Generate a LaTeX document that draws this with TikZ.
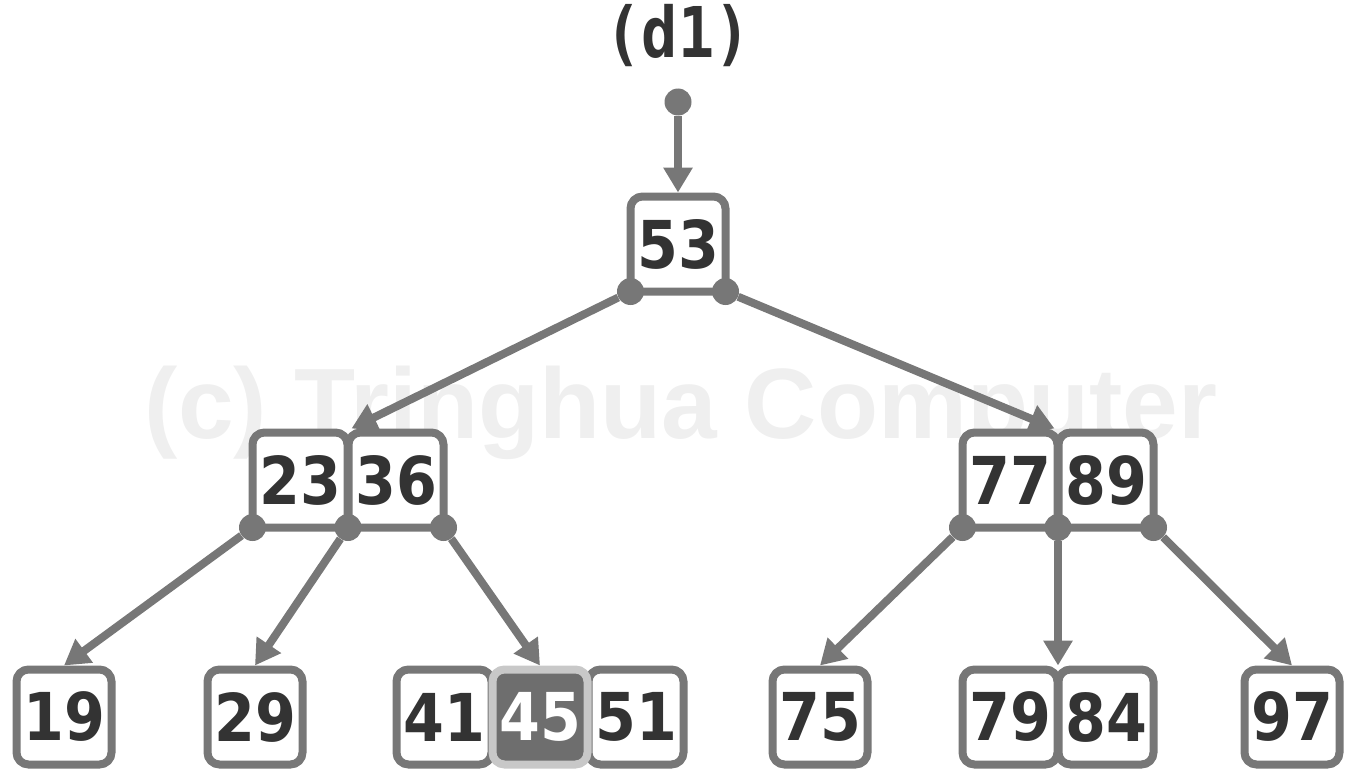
\documentclass[tikz,border=0pt]{standalone}
\usepackage{fontspec}
\usetikzlibrary{arrows.meta}
\newfontfamily\keyfont{DejaVu Sans}[FakeStretch=0.89]
\newfontfamily\titlefont{DejaVu Sans Mono}[FakeStretch=0.86]
\newfontfamily\markfont{Liberation Sans}
\definecolor{linegray}{HTML}{777777}
\definecolor{keytext}{HTML}{333333}
\definecolor{hifill}{HTML}{6E6E6E}
\definecolor{hiborder}{HTML}{C8C8C8}
\definecolor{markgray}{HTML}{EFEFEF}
\begin{document}
\begin{tikzpicture}[x=1pt,y=-1pt,
  key/.style={draw=linegray, fill=white, line width=8pt, rounded corners=12pt,
    minimum width=95pt, minimum height=95pt, inner sep=0pt, text=keytext,
    font=\keyfont\bfseries\fontsize{66}{66}\selectfont},
  hikey/.style={key, draw=hiborder, fill=hifill, text=white},
  ptr/.style={circle, fill=linegray, minimum size=27pt, inner sep=0pt},
  link/.style={draw=linegray, line width=8pt, -{Triangle[width=28pt,length=25pt]}}
]
\useasboundingbox (0,0) rectangle (1358,776);

% faint copyright mark behind the tree
\node[font=\markfont\bfseries\fontsize{100}{100}\selectfont, text=markgray, anchor=base]
  (mark) at (681,438) {(c) Tringhua Computer};

% caption
\node[font=\titlefont\bfseries\fontsize{70}{70}\selectfont, text=keytext, anchor=base]
  (title) at (678,58) {(d1)};

% root
\node[key] (k53) at (678,244) {53};

% inner nodes
\node[key] (k23) at (300,480) {23};
\node[key] (k36) at (396,480) {36};
\node[key] (k77) at (1010,480) {77};
\node[key] (k89) at (1106,480) {89};

% leaves
\node[key] (k19) at (64,717) {19};
\node[key] (k29) at (255,717) {29};
\node[key] (k41) at (444,717) {41};
\node[key] (k51) at (636,717) {51};
\node[hikey] (k45) at (540,717) {45};
\node[key] (k75) at (820,717) {75};
\node[key] (k79) at (1010,717) {79};
\node[key] (k84) at (1106,717) {84};
\node[key] (k97) at (1292,717) {97};

% child pointers
\node[ptr] (ptop) at (678,102) {};
\node[ptr] (p53a) at (630.5,291.5) {};
\node[ptr] (p53b) at (725.5,291.5) {};
\node[ptr] (p23a) at (252.5,527.5) {};
\node[ptr] (p23b) at (348,527.5) {};
\node[ptr] (p23c) at (443.5,527.5) {};
\node[ptr] (p77a) at (962.5,527.5) {};
\node[ptr] (p77b) at (1058,527.5) {};
\node[ptr] (p77c) at (1153.5,527.5) {};

% links
\draw[link] (ptop) -- (k53.north);
\draw[link] (p53a) -- (k23.north east);
\draw[link] (p53b) -- (k89.north west);
\draw[link] (p23a) -- (k19.north);
\draw[link] (p23b) -- (k29.north);
\draw[link] (p23c) -- (k45.north);
\draw[link] (p77a) -- (k75.north);
\draw[link] (p77b) -- (p77b |- k79.north);
\draw[link] (p77c) -- (k97.north);
\end{tikzpicture}
\end{document}
